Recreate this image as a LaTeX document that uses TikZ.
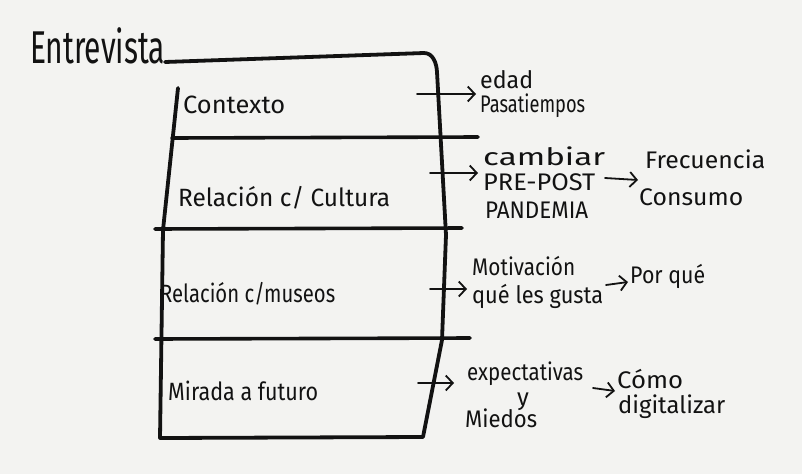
\documentclass[tikz,border=0pt]{standalone}
\usepackage{fontspec}
\setmainfont{Fira Sans}
\usetikzlibrary{arrows.meta}
\definecolor{paper}{HTML}{F3F3F1}
\definecolor{ink}{HTML}{121212}
\newcommand{\fitw}[2]{\resizebox{#1pt}{\height}{#2}}
\tikzset{
  boxline/.style={draw=ink, line width=3.8pt, line cap=round, line join=round},
  divline/.style={draw=ink, line width=3.6pt, line cap=round},
  arr/.style={draw=ink, line width=1.8pt, line cap=round, -{Straight Barb[length=7pt,width=15pt,line width=1.8pt]}},
  hw/.style={anchor=base west, inner sep=0pt, text=ink, font=\fontsize{25}{27}\selectfont},
  hws/.style={hw, font=\fontsize{24}{26}\selectfont},
}
\begin{document}
\begin{tikzpicture}[x=1pt,y=-1pt]
\fill[paper] (0,0) rectangle (802,474);
\useasboundingbox (0,0) rectangle (802,474);
% title
\node[hw, font=\fontsize{46}{48}\selectfont] (title) at (30,63) {\fitw{135}{Entrevista}};
% box
\path[boxline] (165,62) -- (424,53) to[out=0,in=93] (437,72) -- (446,235) -- (442,340) -- (423,437) -- (160,438) -- (163,230) -- (178,88);
\path[divline] (172,138) -- (478,137);
\path[divline] (155,229) -- (462,228);
\path[divline] (155,339) -- (470,338);
% section labels
\node[hw] (contexto) at (183,113) {\fitw{102}{Contexto}};
\node[hw] (cultura) at (178,206) {\fitw{212}{Relación c/ Cultura}};
\node[hw] (museos) at (160,302) {\fitw{175}{Relación c/museos}};
\node[hw] (futuro) at (168,400) {\fitw{150}{Mirada a futuro}};
% right texts
\node[hws] (edad) at (480,88) {\fitw{53}{edad}};
\node[hws] (pasa) at (480,112) {\fitw{105}{Pasatiempos}};
\node[hws] (cambiar) at (483,165) {\fitw{122}{cambiar}};
\node[hws] (prepost) at (483,190) {\fitw{112}{PRE-POST}};
\node[hws] (pandemia) at (485,218) {\fitw{103}{PANDEMIA}};
\node[hws] (frec) at (645,168) {\fitw{120}{Frecuencia}};
\node[hws] (consumo) at (639,205) {\fitw{104}{Consumo}};
\node[hws] (motiv) at (472,275) {\fitw{103}{Motivación}};
\node[hws] (gusta) at (472,303) {\fitw{131}{qué les gusta}};
\node[hws] (porque) at (630,283) {\fitw{75}{Por qué}};
\node[hws] (expect) at (467,380) {\fitw{116}{expectativas}};
\node[hws] (yy) at (517,405) {y};
\node[hws] (miedos) at (465,427) {\fitw{72}{Miedos}};
\node[hws] (como) at (617,388) {\fitw{66}{Cómo}};
\node[hws] (digit) at (618,413) {\fitw{107}{digitalizar}};
% arrow coordinates
\coordinate (a1s) at (417,94);
\coordinate (a1e) at (476,94);
\coordinate (a2s) at (430,173);
\coordinate (a2e) at (478,173);
\coordinate (a3s) at (430,289);
\coordinate (a3e) at (467,289);
\coordinate (a4s) at (418,383);
\coordinate (a4e) at (454,383);
\coordinate (b2s) at (605,178);
\coordinate (b2e) at (638,180);
\coordinate (b3s) at (606,285);
\coordinate (b3e) at (628,282);
\coordinate (b4s) at (593,388);
\coordinate (b4e) at (615,391);
\draw[arr] (a1s) -- (a1e);
\draw[arr] (a2s) -- (a2e);
\draw[arr] (a3s) -- (a3e);
\draw[arr] (a4s) -- (a4e);
\draw[arr] (b2s) -- (b2e);
\draw[arr] (b3s) -- (b3e);
\draw[arr] (b4s) -- (b4e);
\end{tikzpicture}
\end{document}
